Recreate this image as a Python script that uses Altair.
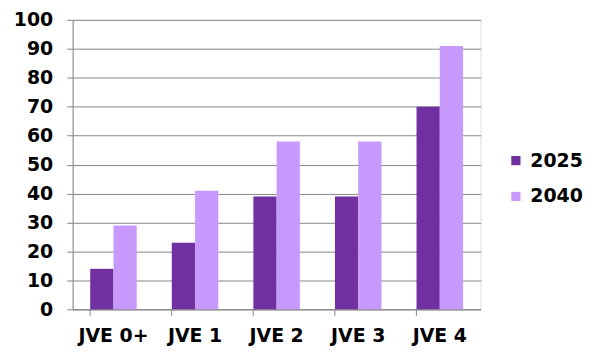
import altair as alt
import pandas as pd

categories = ["JVE 0+", "JVE 1", "JVE 2", "JVE 3", "JVE 4"]
series_names = ["2025", "2040"]
values_2025 = [14, 23, 39, 39, 70]
values_2040 = [29, 41, 58, 58, 91]
colors = ["#7030A0", "#C899FC"]

rows = []
for i, c in enumerate(categories):
    rows.append({"cat": c, "year": series_names[0], "value": values_2025[i]})
    rows.append({"cat": c, "year": series_names[1], "value": values_2040[i]})
df = pd.DataFrame(rows)

FONT = "DejaVu Sans"
FS = 19

bars = alt.Chart(df).mark_bar().encode(
    x=alt.X("cat:N", sort=categories, title=None,
            scale=alt.Scale(paddingInner=0.43, paddingOuter=0.215),
            axis=alt.Axis(labelAngle=0, labelFontSize=FS, labelFont=FONT, labelFontWeight="bold",
                          labelColor="#000000", tickSize=6, bandPosition=0, tickColor="#868686",
                          domainColor="#868686", labelPadding=11, grid=False)),
    xOffset=alt.XOffset("year:N", sort=series_names, scale=alt.Scale(paddingInner=0, paddingOuter=0)),
    y=alt.Y("value:Q", title=None, scale=alt.Scale(domain=[0, 100], nice=False),
            axis=alt.Axis(values=list(range(0, 101, 10)), labelFontSize=FS, labelFont=FONT,
                          labelFontWeight="bold", labelColor="#000000", tickSize=6,
                          tickColor="#868686", domainColor="#868686", gridColor="#868686",
                          labelPadding=14, grid=True)),
    color=alt.Color("year:N", sort=series_names,
                    scale=alt.Scale(domain=series_names, range=colors),
                    legend=alt.Legend(title=None, orient="none", legendX=436, legendY=132,
                                      symbolType="square", symbolSize=85, symbolStrokeWidth=0,
                                      labelFontSize=FS, labelFont=FONT, labelFontWeight="bold",
                                      labelColor="#000000", rowPadding=16, labelOffset=5)),
)

chart = bars.properties(
    width=410, height=291,
    padding={"left": 5, "top": 2, "right": 10, "bottom": 10},
).configure_view(stroke=None).configure(background="#ffffff")

chart.save("out.html", embed_options={"renderer": "svg", "actions": False})
